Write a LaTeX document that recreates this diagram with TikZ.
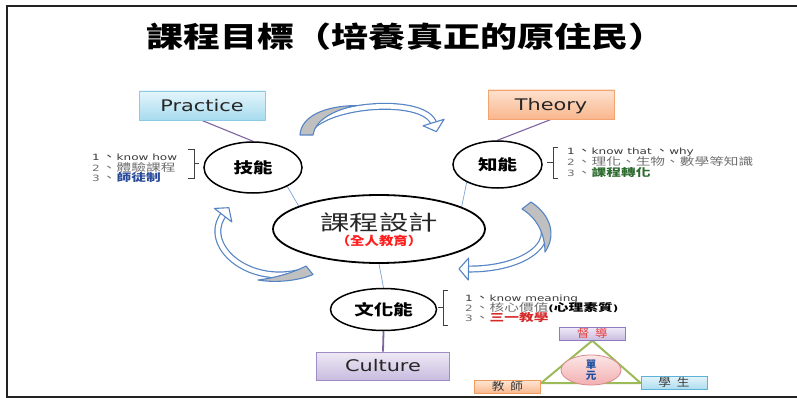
\documentclass[tikz,border=0pt]{standalone}
\usepackage{fontspec}
\usepackage{graphicx}
\setmainfont{DejaVu Sans}
\newfontfamily\cjk{Noto Sans CJK TC}
\usetikzlibrary{shapes.geometric,calc}
\pgfdeclarelayer{back}
\pgfdeclarelayer{bg}
\pgfsetlayers{back,bg,main}

\definecolor{arrblue}{HTML}{5584C4}
\definecolor{arrgray}{HTML}{C0C0C0}
\definecolor{linepurple}{HTML}{8064A2}
\definecolor{lineblue}{HTML}{7BA3D6}
\definecolor{tdark}{HTML}{3A3A3A}
\definecolor{tgray}{HTML}{707070}
\definecolor{tblue}{HTML}{2B4C9B}
\definecolor{tgreen}{HTML}{2E6B30}
\definecolor{tred}{HTML}{D42A2A}
\definecolor{kred}{HTML}{FF1F1F}
\definecolor{trigreen}{HTML}{9BBB59}
\definecolor{brkgray}{HTML}{404040}
\definecolor{framec}{HTML}{222222}
\definecolor{boxtext}{HTML}{262626}
\definecolor{pracT}{HTML}{E5F5FB}\definecolor{pracB}{HTML}{A6DBEF}\definecolor{pracD}{HTML}{8CCBE3}
\definecolor{theoT}{HTML}{FDE2CF}\definecolor{theoB}{HTML}{F9B68D}\definecolor{theoD}{HTML}{F5A46F}
\definecolor{culT}{HTML}{EEE9F5}\definecolor{culB}{HTML}{C8BCDF}\definecolor{culD}{HTML}{A08DC6}
\definecolor{ddT}{HTML}{EEE8F6}\definecolor{ddB}{HTML}{C9BCE0}\definecolor{ddD}{HTML}{8E7CC3}
\definecolor{jsT}{HTML}{FDE4D0}\definecolor{jsB}{HTML}{F9B88E}\definecolor{jsD}{HTML}{F29B5E}
\definecolor{xsT}{HTML}{E2F3FA}\definecolor{xsB}{HTML}{ADDDEF}\definecolor{xsD}{HTML}{5CB3D6}
\definecolor{dyT}{HTML}{FCE6E6}\definecolor{dyB}{HTML}{F2AFB1}\definecolor{dyD}{HTML}{D9898C}
\definecolor{ddtext}{HTML}{E8403F}
\definecolor{smtext}{HTML}{3A3A3A}
\definecolor{dytext}{HTML}{1F4FA0}

\newcommand\hs[2][1.33]{\scalebox{#1}[1]{#2}}
\newcommand\lsx[1]{\scalebox{1.4}[1]{\fontsize{8.6}{10}\selectfont #1}}
\newcommand\cj[1]{{\cjk\fontsize{10.5}{10.5}\selectfont #1}}
\newcommand\smc[1]{\scalebox{1.15}[1]{\cjk\fontsize{11}{11}\selectfont #1}}
% #1 start, #2 c1, #3 c2, #4 end, #5 name
\newcommand\myarrow[5]{%
  \draw[line width=7pt, arrblue] #1 .. controls #2 and #3 .. #4;
  \draw[line width=4.6pt, white] #1 .. controls #2 and #3 .. #4;
  \coordinate (#5e) at #4;
  \coordinate (#5c) at #3;
  \coordinate (#5b) at ($(#5e)!1.5pt!(#5c)$);
  \coordinate (#5t) at ($(#5e)!-8pt!(#5c)$);
  \coordinate (#5w1) at ($(#5b)!11pt!90:(#5c)$);
  \coordinate (#5w2) at ($(#5b)!11pt!-90:(#5c)$);}
\newcommand\myhead[1]{%
  \filldraw[fill=white, draw=arrblue, line width=1.1pt, line join=round] (#1w1) -- (#1t) -- (#1w2) -- cycle;}

\begin{document}
\begin{tikzpicture}[x=1pt,y=-1pt,
  ell/.style={ellipse, draw=black, line width=1.5pt, fill=white, inner sep=0pt},
  box/.style={rectangle, draw, line width=0.9pt, inner sep=0pt, minimum width=126pt, minimum height=29pt, text=boxtext, font=\fontsize{16}{16}\selectfont, text height=11.7pt, text depth=0pt},
  sbox/.style={rectangle, draw, line width=0.8pt, inner sep=0pt, minimum width=66pt, minimum height=12.5pt, text height=9pt, text depth=1.5pt},
  pline/.style={draw=linepurple, line width=1.1pt},
  bline/.style={draw=lineblue, line width=0.7pt},
  brk/.style={draw=brkgray, line width=0.9pt},
  lst/.style={anchor=base west, inner sep=0pt},
  tri/.style={draw=trigreen, line width=2pt, line join=round},
  crescent/.style={fill=arrgray, draw=arrblue, line width=1.1pt, line join=round}
]
\useasboundingbox (0,0) rectangle (797,398);
\begin{pgfonlayer}{back}
\fill[white] (0,0) rectangle (797,398);
\end{pgfonlayer}
\draw[line width=2.2pt, framec] (797,6.3) -- (7,6.3) -- (7,397) -- (797,397);

% title
\node[inner sep=0pt] (title) at (406,37) {\scalebox{1.3}[1]{\cjk\bfseries\fontsize{28.5}{30}\selectfont 課程目標（培養真正的原住民）}};

% curved arrows
\myarrow{(307,134)}{(318,104)}{(425,95)}{(434,124)}{aa}
\draw[crescent] (300,135) .. controls (301,116) and (325,106) .. (356,105.5) .. controls (334,110) and (315,120) .. (313,135) -- cycle;
\myhead{aa}

\myarrow{(308,270)}{(250,290)}{(200,245)}{(224,214)}{ab}
\draw[crescent] (306,266) -- (313,274.5) .. controls (298,281) and (275,283) .. (258,280) .. controls (275,278) and (295,272) .. (306,266) -- cycle;
\myhead{ab}

\myarrow{(530,208)}{(568,240)}{(525,270)}{(467,269)}{ac}
\draw[crescent] (522,209) -- (531,202) .. controls (552,216) and (556,236) .. (545,252) .. controls (545,234) and (537,218) .. (522,209) -- cycle;
\myhead{ac}

% boxes
\node[box, top color=pracT, bottom color=pracB, draw=pracD] (prac) at (202,105.5) {\hs[1.3]{Practice}};
\node[box, top color=theoT, bottom color=theoB, draw=theoD] (theo) at (551,104.5) {\hs[1.3]{Theory}};
\node[box, top color=culT, bottom color=culB, draw=culD, minimum width=133pt, minimum height=28pt] (cul) at (383,366) {\hs[1.3]{Culture}};

% ellipses
\node[ell, minimum width=98pt, minimum height=51pt] (jn) at (253,167.5) {\hs[1.3]{\cjk\bfseries\fontsize{15}{15}\selectfont 技能}};
\node[ell, minimum width=89pt, minimum height=47pt] (zn) at (497.5,164.5) {\hs[1.3]{\cjk\bfseries\fontsize{15}{15}\selectfont 知能}};
\node[ell, minimum width=106pt, minimum height=42pt] (wh) at (383.5,309.5) {\hs[1.3]{\cjk\bfseries\fontsize{15}{15}\selectfont 文化能}};
\node[ell, line width=1.8pt, minimum width=212pt, minimum height=68pt] (kc) at (379,229) {};
\node[inner sep=0pt] (kct1) at (379,222.5) {\scalebox{1.4}[1]{\cjk\fontsize{21}{21}\selectfont\color{boxtext}課程設計}};
\node[inner sep=0pt] (kct2) at (379,240.5) {\scalebox{1.2}[1]{\cjk\bfseries\fontsize{12}{12}\selectfont\color{kred}（全人教育）}};

% connectors
\begin{pgfonlayer}{bg}
\draw[pline] (prac.south) -- (jn.north);
\draw[pline] (theo.south) -- (zn.north);
\draw[bline] (jn.-29) -- (kc.164);
\draw[bline] (zn.210) -- (kc.15);
\draw[bline] (kc.south) -- (wh.north);
\draw[pline, line width=1.8pt] (wh.south) -- (cul.north);
\end{pgfonlayer}

% brackets
\draw[brk] (188,149) -- (194,149) -- (194,178) -- (188,178);
\draw[brk] (194,163.5) -- (198.5,163.5);
\draw[brk] (558,147) -- (553,147) -- (553,178) -- (558,178);
\draw[brk] (553,162.5) -- (547,162.5);
\draw[brk] (448,290) -- (443,290) -- (443,325) -- (448,325);
\draw[brk] (443,307.5) -- (437.5,307.5);

% lists
\node[lst, text=tdark] (jl1) at (92,160.5) {\lsx{1\hspace{1.5pt}\cj{、}know how}};
\node[lst, text=tgray] (jl2) at (92,171.5) {\lsx{2\hspace{1.5pt}\cj{、體驗課程}}};
\node[lst, text=tgray] (jl3) at (92,182) {\lsx{3\hspace{1.5pt}\cj{、}\textcolor{tblue}{\cj{\bfseries 師徒制}}}};

\node[lst, text=tdark] (zl1) at (567,155) {\lsx{1\hspace{1.5pt}\cj{、}know that\hspace{2pt}\cj{、}why}};
\node[lst, text=tgray] (zl2) at (567,166) {\lsx{2\hspace{1.5pt}\cj{、理化、生物、數學等知識}}};
\node[lst, text=tgray] (zl3) at (567,177) {\lsx{3\hspace{1.5pt}\cj{、}\textcolor{tgreen}{\cj{\bfseries 課程轉化}}}};

\node[lst, text=tdark] (wl1) at (465,301) {\lsx{1\hspace{1.5pt}\cj{、}know meaning}};
\node[lst, text=tgray] (wl2) at (465,311) {\lsx{2\hspace{1.5pt}\cj{、核心價值}\textcolor{black}{\bfseries(\cj{\bfseries 心理素質})}}};
\node[lst, text=tgray] (wl3) at (465,321) {\lsx{3\hspace{1.5pt}\cj{、}\textcolor{tred}{\cj{\bfseries 三一教學}}}};

% small triangle diagram
\node[sbox, top color=ddT, bottom color=ddB, draw=ddD] (dd) at (592.3,334) {\smc{\color{ddtext}督\hspace{5pt}導}};
\node[sbox, top color=jsT, bottom color=jsB, draw=jsD, minimum width=66.5pt] (js) at (507.5,387) {\smc{\color{smtext}教\hspace{5pt}師}};
\node[sbox, top color=xsT, bottom color=xsB, draw=xsD] (xs) at (674,383) {\smc{\color{smtext}學\hspace{5pt}生}};
\coordinate (tbl) at (js.east |- xs.west);
\begin{pgfonlayer}{bg}
\draw[tri] (dd.south) -- (tbl) -- (xs.west) -- cycle;
\end{pgfonlayer}
\node[ellipse, inner sep=0pt, minimum width=60pt, minimum height=30pt, top color=dyT, bottom color=dyB, draw=dyD, line width=0.8pt, align=center, font=\cjk\bfseries\fontsize{10.5}{11}\selectfont, text=dytext] (dy) at (591,370) {單\\元};
\end{tikzpicture}
\end{document}
